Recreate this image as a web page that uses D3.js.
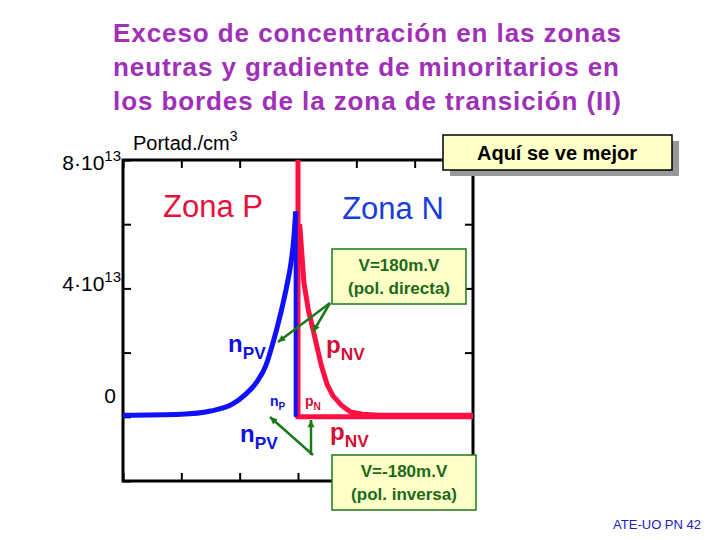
<!DOCTYPE html>
<html><head><meta charset="utf-8">
<script src="https://cdn.jsdelivr.net/npm/d3@7"></script>
<style>body{margin:0;background:#fff}text{font-family:Arial,"Liberation Sans",sans-serif}</style>
</head><body><svg id="c" width="720" height="540"></svg>
<script>
// values in units of 1e13 cm^-3, x in arbitrary position units (junction at 3)
var titleLines = ["Exceso de concentración en las zonas", "neutras y gradiente de minoritarios en", "los bordes de la zona de transición (II)"];
var blueX = [0, 1.0, 1.5, 1.88, 2.1, 2.3, 2.45, 2.57, 2.7, 2.81, 2.88, 2.93, 2.96, 2.96, 2.97];
var blueY = [0.05, 0.08, 0.18, 0.4, 0.7, 1.1, 1.6, 2.3, 3.2, 4.1, 4.8, 5.6, 6.4, 0.05, 0];
var redX = [3.03, 3.1, 3.18, 3.26, 3.4, 3.5, 3.6, 3.75, 3.9, 4.1, 4.4, 6.0];
var redY = [6.0, 4.2, 3.3, 2.7, 1.6, 1.0, 0.65, 0.35, 0.15, 0.08, 0.05, 0.05];
var junctionX = [3.0, 3.0, 6.0];
var junctionY = [8.0, 0.0, 0.0];
var xTicks = [0, 1, 2, 3, 4, 5, 6];
var yTicks = [-2, 0, 2, 4, 6, 8];

var svg = d3.select("#c");
var x = d3.scaleLinear().domain([0, 6]).range([123, 473]);
var y = d3.scaleLinear().domain([-2, 8]).range([481, 160]);

svg.selectAll(".title").data(titleLines).enter().append("text")
    .attr("x", 113).attr("y", function(d, i) { return 42 + i * 34; })
    .attr("font-size", 26).attr("font-weight", "bold").attr("textLength", function(d, i) { return [508, 506, 508][i]; })
    .attr("fill", "#a030b8").text(function(d) { return d; });

// axes box
svg.append("rect").attr("x", 123).attr("y", 160).attr("width", 350).attr("height", 321)
    .attr("fill", "none").attr("stroke", "#000").attr("stroke-width", 3);
svg.append("g").attr("transform", "translate(0,481)")
    .call(d3.axisBottom(x).tickValues(xTicks).tickSize(-8).tickFormat(""))
    .call(function(g) { g.select(".domain").remove(); g.selectAll("line").attr("stroke-width", 2); });
svg.append("g").attr("transform", "translate(0,160)")
    .call(d3.axisTop(x).tickValues(xTicks).tickSize(-8).tickFormat(""))
    .call(function(g) { g.select(".domain").remove(); g.selectAll("line").attr("stroke-width", 2); });
svg.append("g").attr("transform", "translate(123,0)")
    .call(d3.axisLeft(y).tickValues(yTicks).tickSize(-8).tickFormat(""))
    .call(function(g) { g.select(".domain").remove(); g.selectAll("line").attr("stroke-width", 2); });
svg.append("g").attr("transform", "translate(473,0)")
    .call(d3.axisRight(y).tickValues(yTicks).tickSize(-8).tickFormat(""))
    .call(function(g) { g.select(".domain").remove(); g.selectAll("line").attr("stroke-width", 2); });

// y labels
function yLab(t, sup, xp, yp) {
    var tx = svg.append("text").attr("x", xp).attr("y", yp).attr("font-size", 21).attr("text-anchor", "end");
    tx.append("tspan").text(t);
    if (sup) tx.append("tspan").attr("dy", -9).attr("font-size", 15).text(sup);
}
yLab("8·10", "13", 121, 170);
yLab("4·10", "13", 121, 291);
yLab("0", null, 116, 403);
var pt = svg.append("text").attr("x", 133).attr("y", 150).attr("font-size", 20);
pt.append("tspan").text("Portad./cm");
pt.append("tspan").attr("dy", -9).attr("font-size", 14).text("3");

var line = d3.line().x(function(d) { return x(d[0]); }).y(function(d) { return y(d[1]); });
function pts(xs, ys) { return xs.map(function(v, i) { return [v, ys[i]]; }); }

svg.append("path").attr("d", line(pts(redX, redY))).attr("fill", "none")
    .attr("stroke", "#ff1040").attr("stroke-width", 5).attr("stroke-linejoin", "round");
svg.append("path").attr("d", line(pts(junctionX, junctionY))).attr("fill", "none")
    .attr("stroke", "#ff1040").attr("stroke-width", 5);
svg.append("path").attr("d", d3.line().curve(d3.curveMonotoneX)
        .x(function(d) { return x(d[0]); }).y(function(d) { return y(d[1]); })(pts(blueX.slice(0, 13), blueY.slice(0, 13))))
    .attr("fill", "none").attr("stroke", "#1010ff").attr("stroke-width", 5).attr("stroke-linejoin", "round");
svg.append("path").attr("d", line(pts(blueX.slice(12), blueY.slice(12)))).attr("fill", "none")
    .attr("stroke", "#1010ff").attr("stroke-width", 4);

// zone labels
svg.append("text").attr("x", 213).attr("y", 217).attr("text-anchor", "middle").attr("font-size", 31)
    .attr("fill", "#e8103a").text("Zona P");
svg.append("text").attr("x", 393).attr("y", 219).attr("text-anchor", "middle").attr("font-size", 31)
    .attr("fill", "#1a3cd8").text("Zona N");

function sub(t, s, xp, yp, fs, col) {
    var tx = svg.append("text").attr("x", xp).attr("y", yp).attr("font-size", fs)
        .attr("font-weight", "bold").attr("fill", col);
    tx.append("tspan").text(t);
    tx.append("tspan").attr("dy", fs * 0.3).attr("font-size", fs * 0.72).text(s);
}
sub("n", "PV", 228, 352, 24, "#1010e0");
sub("p", "NV", 326, 353, 24, "#d01038");
sub("n", "P", 270, 406, 14, "#1010e0");
sub("p", "N", 305, 406, 14, "#d01038");
sub("n", "PV", 240, 442, 24, "#1010e0");
sub("p", "NV", 330, 440, 24, "#d01038");

// green callouts
function arrow(x1, y1, x2, y2) {
    svg.append("line").attr("x1", x1).attr("y1", y1).attr("x2", x2).attr("y2", y2)
        .attr("stroke", "#1a7a1a").attr("stroke-width", 2.5);
    var a = Math.atan2(y2 - y1, x2 - x1), L = 8;
    var p = [[x2, y2], [x2 - L * Math.cos(a - 0.45), y2 - L * Math.sin(a - 0.45)], [x2 - L * Math.cos(a + 0.45), y2 - L * Math.sin(a + 0.45)]];
    svg.append("polygon").attr("points", p.join(" ")).attr("fill", "#1a7a1a");
}
arrow(330, 303, 278, 342);
arrow(330, 303, 313, 332);
arrow(313, 455, 270, 417);
arrow(311, 455, 311, 420);

function box(x0, y0, w, h, lines) {
    svg.append("rect").attr("x", x0).attr("y", y0).attr("width", w).attr("height", h)
        .attr("fill", "#ffffc8").attr("stroke", "#1a7a1a").attr("stroke-width", 1.5);
    lines.forEach(function(t, i) {
        svg.append("text").attr("x", x0 + w / 2).attr("y", y0 + 22 + i * 23).attr("text-anchor", "middle")
            .attr("font-size", 17).attr("font-weight", "bold").attr("fill", "#1a6a1a").text(t);
    });
}
box(332, 249, 134, 55, ["V=180m.V", "(pol. directa)"]);
box(332, 455, 144, 55, ["V=-180m.V", "(pol. inversa)"]);

// "Aquí se ve mejor"
svg.append("rect").attr("x", 450).attr("y", 141).attr("width", 229).attr("height", 35).attr("fill", "#999");
svg.append("rect").attr("x", 443).attr("y", 135).attr("width", 229).attr("height", 35)
    .attr("fill", "#ffffc8").attr("stroke", "#000").attr("stroke-width", 1.5);
svg.append("text").attr("x", 557).attr("y", 160).attr("text-anchor", "middle").attr("font-size", 20)
    .attr("font-weight", "bold").text("Aquí se ve mejor");

svg.append("text").attr("x", 701).attr("y", 529).attr("text-anchor", "end").attr("font-size", 13)
    .attr("fill", "#2020c0").text("ATE-UO PN 42");
</script></body></html>
